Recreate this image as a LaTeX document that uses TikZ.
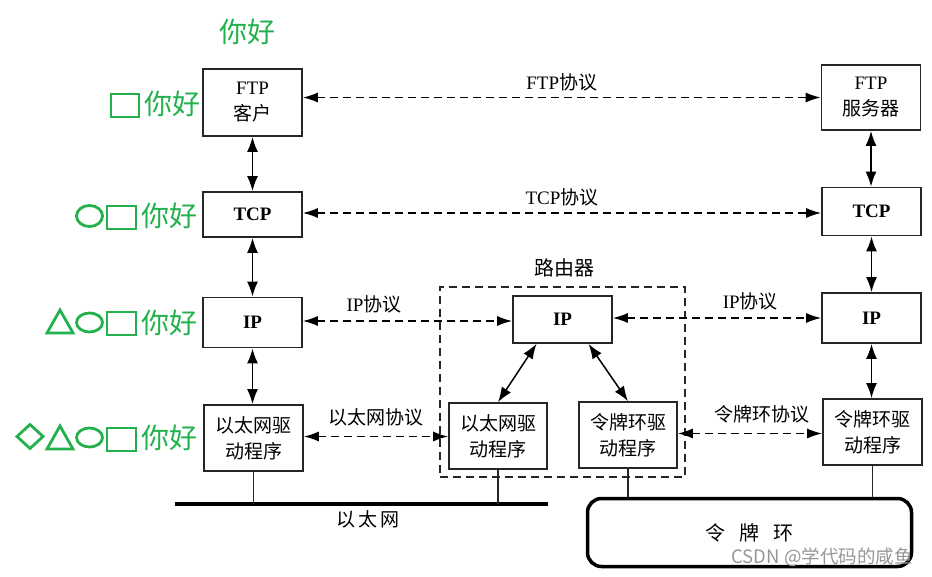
\documentclass[tikz,border=0pt]{standalone}
\usepackage{fontspec}
\setmainfont{Liberation Serif}
\newfontfamily\cjk{Noto Sans CJK SC}
\usetikzlibrary{arrows.meta,calc}
\definecolor{pgreen}{RGB}{34,177,76}
\definecolor{wmark}{RGB}{150,150,150}
\begin{document}
\begin{tikzpicture}[x=1pt,y=-1pt,
  layerbox/.style={draw=black!85,line width=1.7pt,fill=white,minimum width=99pt,align=center,inner sep=2pt,font=\fontsize{19}{26}\selectfont},
  solidarr/.style={{Latex[length=15pt,width=11pt]}-{Latex[length=15pt,width=11pt]},line width=1.8pt},
  dasharr/.style={{Latex[length=15pt,width=10pt]}-{Latex[length=15pt,width=10pt]},line width=1.4pt,dash pattern=on 8pt off 5pt},
  protlabel/.style={font=\fontsize{19}{22}\selectfont,inner sep=1pt},
  greenlab/.style={text=pgreen,font=\cjk\fontsize{28}{30}\selectfont,inner sep=0pt},
  gshape/.style={draw=pgreen,line width=2.8pt},
  plain/.style={line width=1.4pt,draw=black!85}
]
\useasboundingbox (0,0) rectangle (932,577);

% green labels
\node[greenlab] (hello) at (247,32) {你好};
\node[greenlab,anchor=west] (g1) at (144,104) {你好};
\node[greenlab,anchor=west] (g2) at (141,216) {你好};
\node[greenlab,anchor=west] (g3) at (141,323) {你好};
\node[greenlab,anchor=west] (g4) at (141,438) {你好};
% green symbols
\draw[gshape] (111,94) rectangle (139,117);
\draw[gshape] (89.5,216) ellipse [x radius=13pt,y radius=10.5pt];
\draw[gshape] (107,206) rectangle (136,229);
\draw[gshape] (47,333) -- (60,310) -- (73,333) -- cycle;
\draw[gshape] (89.5,322.5) ellipse [x radius=13pt,y radius=9.5pt];
\draw[gshape] (107,312) rectangle (136,335);
\draw[gshape] (17,436.5) -- (30,424.5) -- (43,436.5) -- (30,448.5) -- cycle;
\draw[gshape] (47,449) -- (60,426) -- (73,449) -- cycle;
\draw[gshape] (89.5,437.5) ellipse [x radius=13pt,y radius=9.5pt];
\draw[gshape] (107,428) rectangle (136,451);

% router dashed frame
\node[draw=black!85,line width=1.5pt,dash pattern=on 8pt off 5pt,minimum width=245pt,minimum height=190pt,inner sep=0pt] (router) at (562.5,382) {};
\node[protlabel,font=\cjk\fontsize{20}{22}\selectfont] (routerlab) at (564,268) {路由器};

% left host
\node[layerbox,minimum height=67pt] (ftpc) at (252.5,102.5) {FTP\\{\cjk 客户}};
\node[layerbox,minimum height=45pt] (tcpl) at (252.5,214.5) {\textbf{TCP}};
\node[layerbox,minimum height=50pt] (ipl) at (252.5,322.5) {\textbf{IP}};
\node[layerbox,minimum height=66pt] (ethl) at (253.5,438) {\cjk 以太网驱\\\cjk 动程序};

% right host
\node[layerbox,minimum height=65pt] (ftps) at (871,97.5) {FTP\\{\cjk 服务器}};
\node[layerbox,minimum height=48pt] (tcpr) at (871.5,211.5) {\textbf{TCP}};
\node[layerbox,minimum height=50pt] (ipr) at (871.5,318) {\textbf{IP}};
\node[layerbox,minimum height=66pt] (tokr) at (872.5,432) {\cjk 令牌环驱\\\cjk 动程序};

% router internals
\node[layerbox,minimum height=47pt] (iprt) at (562.5,319.5) {\textbf{IP}};
\node[layerbox,minimum width=98pt,minimum height=66pt] (ethrt) at (498,436) {\cjk 以太网驱\\\cjk 动程序};
\node[layerbox,minimum width=98pt,minimum height=66pt] (tokrt) at (628,435) {\cjk 令牌环驱\\\cjk 动程序};

% vertical arrows
\draw[solidarr] (ftpc.south) -- (ftpc.south |- tcpl.north);
\draw[solidarr] (tcpl.south) -- (tcpl.south |- ipl.north);
\draw[solidarr] (ipl.south) -- (ipl.south |- ethl.north);
\draw[solidarr] (ftps.south) -- (ftps.south |- tcpr.north);
\draw[solidarr] (tcpr.south) -- (tcpr.south |- ipr.north);
\draw[solidarr] (ipr.south) -- (ipr.south |- tokr.north);
\draw[solidarr,line width=1.5pt] ([xshift=-26pt]iprt.south) -- (ethrt.north);
\draw[solidarr,line width=1.5pt] ([xshift=26pt]iprt.south) -- (tokrt.north);

% protocol dashed arrows
\draw[dasharr] (ftpc.east |- ftps.west) -- (ftps.west) node[protlabel,midway,above=5pt] (ftplab) {FTP{\cjk 协议}};
\draw[dasharr] (tcpl.east |- 0,213) coordinate (tcpa) -- (tcpa -| tcpr.west) node[protlabel,midway,above=5pt] (tcplab) {TCP{\cjk 协议}};
\draw[dasharr] (ipl.east |- 0,321) coordinate (ipa) -- (ipa -| iprt.west) node[protlabel,pos=0.34,above=6pt] (iplab1) {IP{\cjk 协议}};
\draw[dasharr] (iprt.east |- 0,318) coordinate (ipb) -- (ipb -| ipr.west) node[protlabel,pos=0.66,above=6pt] (iplab2) {IP{\cjk 协议}};
\draw[dasharr] (ethl.east |- 0,436.5) coordinate (etha) -- (etha -| ethrt.west) node[protlabel,midway,above=9pt] (ethlab) {\cjk 以太网协议};
\draw[dasharr] (tokrt.east |- 0,433.5) coordinate (toka) -- (toka -| tokr.west) node[protlabel,pos=0.58,above=9pt] (toklab) {\cjk 令牌环协议};

% ethernet bus
\coordinate (busL) at (175,504);
\coordinate (busR) at (548,504);
\draw[line width=3.5pt] (busL) -- (busR);
\draw[plain] (ethl.south) -- (ethl.south |- busL);
\draw[plain] (ethrt.south) -- (ethrt.south |- busL);
\node[protlabel,font=\cjk\fontsize{19}{22}\selectfont] (buslab) at (368,519) {以\hspace{3pt}太\hspace{3pt}网};

% token ring
\node[draw,line width=3.5pt,rounded corners=14pt,minimum width=324pt,minimum height=68pt,font=\cjk\fontsize{20}{22}\selectfont] (ring) at (749.5,532.5) {令\hspace{14pt}牌\hspace{14pt}环};
\draw[plain] (tokrt.south) -- (tokrt.south |- ring.north);
\draw[plain] (tokr.south) -- (tokr.south |- ring.north);

% watermark
\node[text=wmark,font=\cjk\fontsize{18.5}{20}\selectfont,inner sep=0pt] (wm) at (822,557) {CSDN @学代码的咸鱼};
\end{tikzpicture}
\end{document}
